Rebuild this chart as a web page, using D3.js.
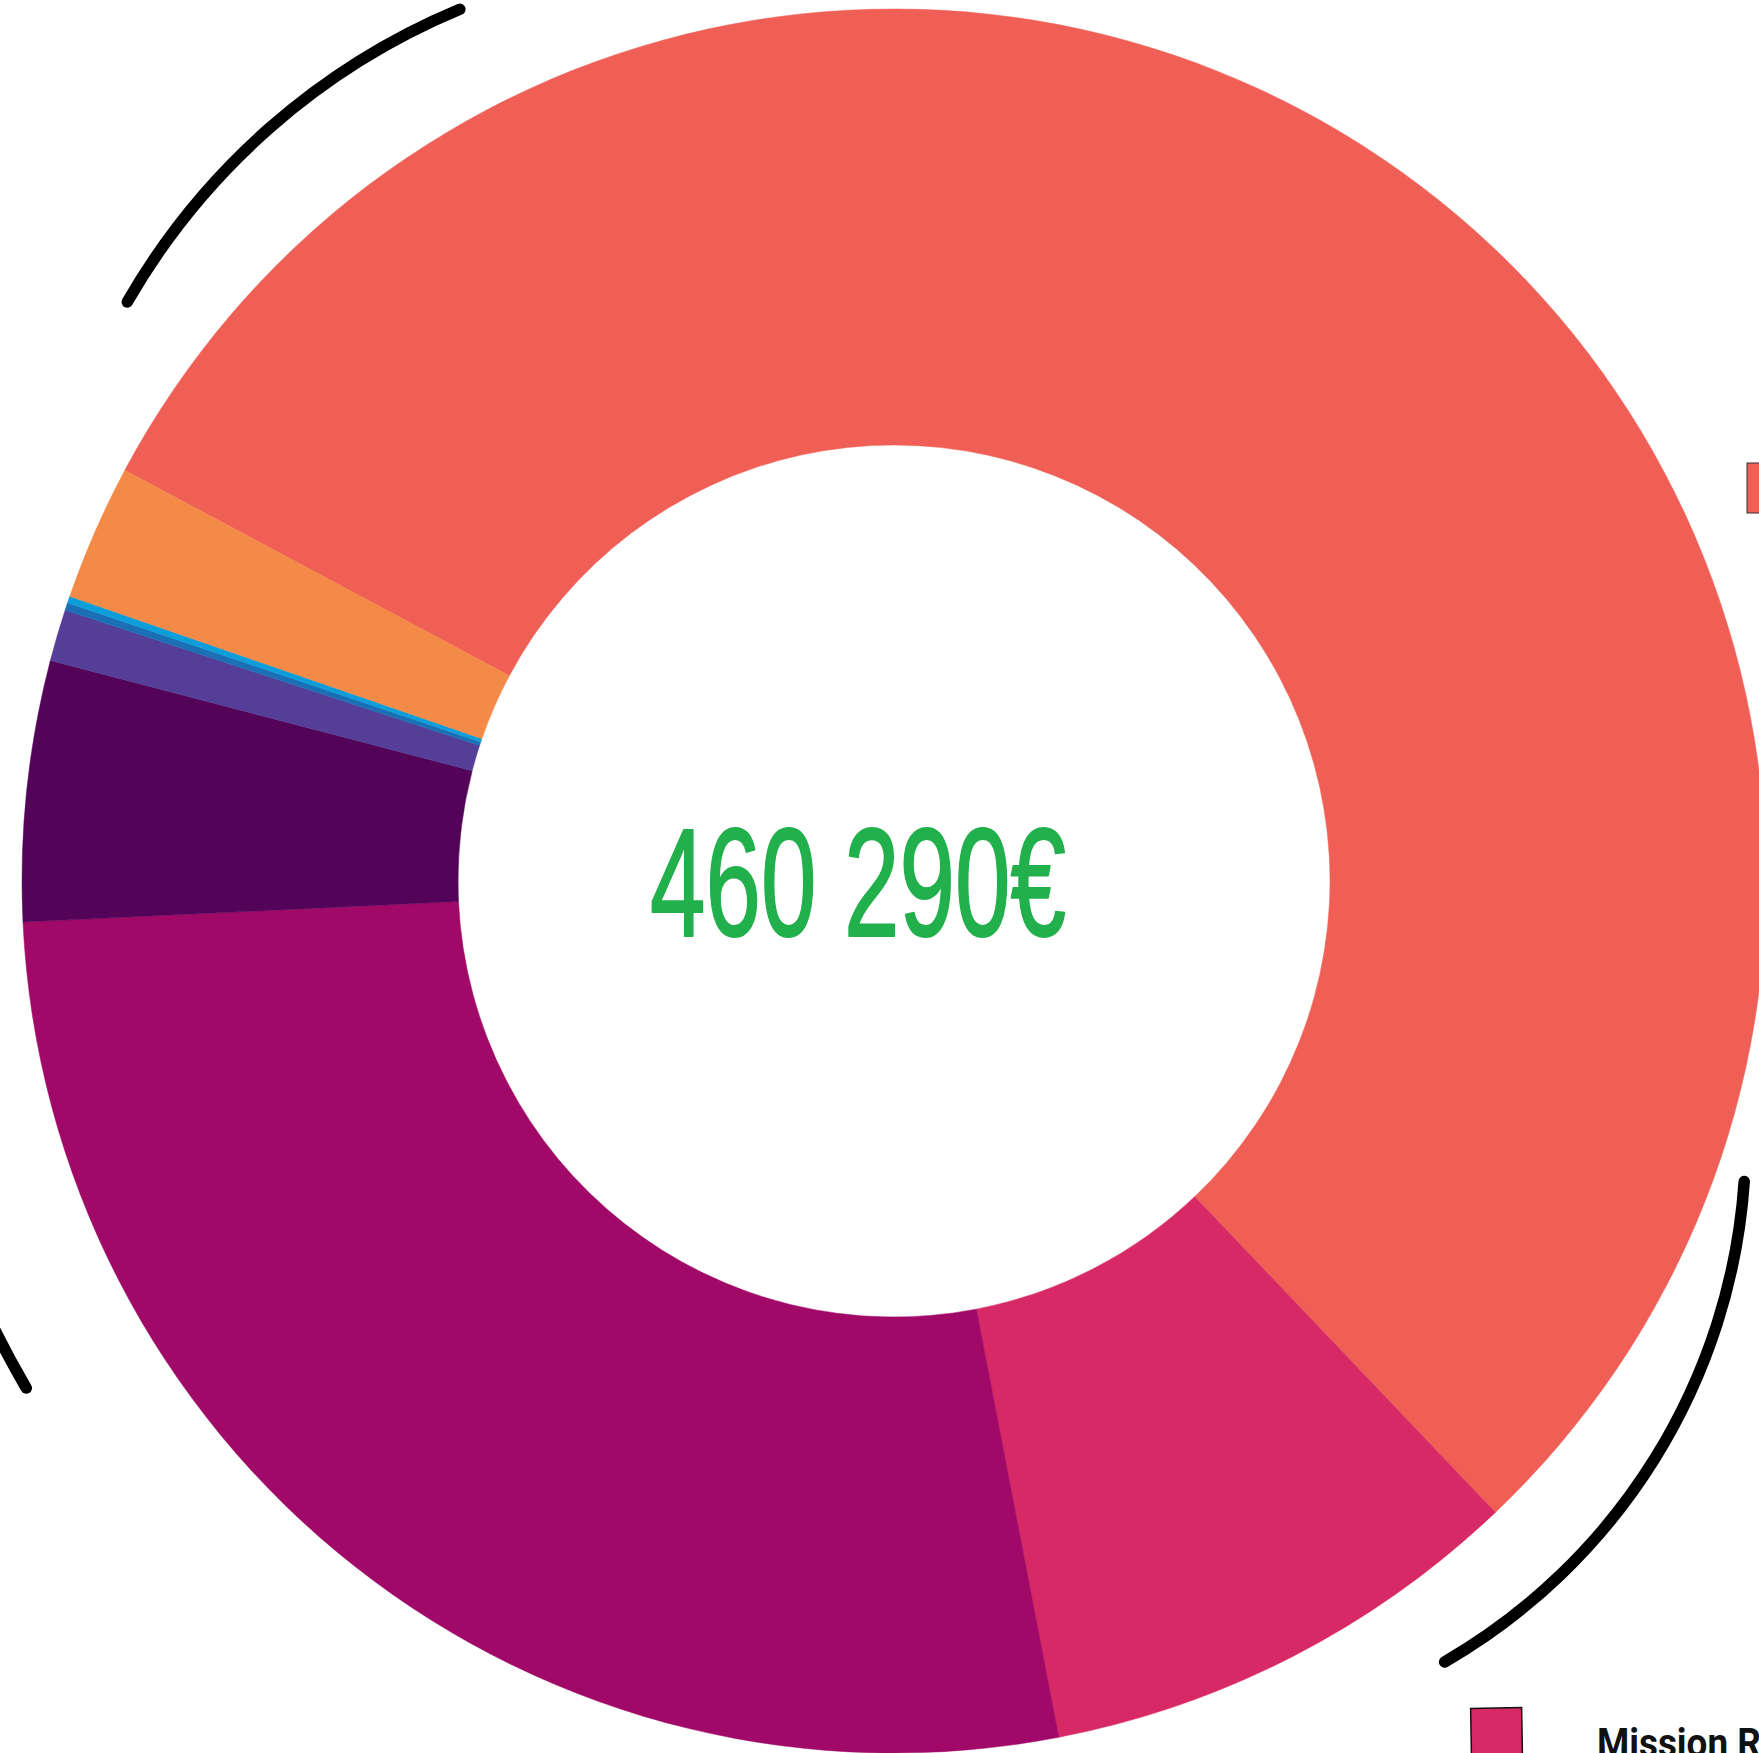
<!DOCTYPE html>
<html>
<head>
<meta charset="utf-8">
<script src="https://cdn.jsdelivr.net/npm/d3@7"></script>
<style>
  html, body { margin: 0; padding: 0; background: #fff; overflow: hidden; }
</style>
</head>
<body>
<svg id="chart" width="1759" height="1753"></svg>
<script>
// data (total 460 290 €)
var categories = ["Poste principal", "Mission RF", "Poste 3", "Poste 4", "Poste 5", "Poste 6", "Poste 7", "Poste 8"];
var values = [253545, 41810, 125560, 22180, 4410, 640, 575, 11570];
var colors = ["#EF5F56", "#D72966", "#A00967", "#530459", "#543E97", "#1B70B5", "#0B9EDB", "#F38A47"];
var totalLabel = "460 290€";

// hand drawn black strokes around the ring: circle centre, radius, start / end angle (deg, screen)
var strokes = [
    { x: 724.6, y: 645.4, r: 689, a0: 209.9, a1: 247.4 },
    { x: 1143.6, y: 1140.6, r: 602, a0: 3.9, a1: 60.0 },
    { x: 894, y: 881, r: 1005, a0: 149.7, a1: 175 }
];

var svg = d3.select("#chart");
var cx = 894, cy = 881;
var outerR = 872, innerR = 436;
var rad = Math.PI / 180;

var g = svg.append("g").attr("transform", "translate(" + cx + "," + cy + ")");

var data = categories.map(function (c, i) { return { name: c, value: values[i], color: colors[i] }; });

var pie = d3.pie()
    .sort(null)
    .value(function (d) { return d.value; })
    .startAngle(-61.9 * rad)
    .endAngle(-61.9 * rad + 2 * Math.PI);

var arc = d3.arc().innerRadius(innerR).outerRadius(outerR);

g.selectAll("path.slice")
    .data(pie(data))
    .enter().append("path")
    .attr("class", "slice")
    .attr("d", arc)
    .attr("fill", function (d) { return d.data.color; })
    .attr("stroke", function (d) { return d.data.color; })
    .attr("stroke-width", 0.5);

// the black strokes
svg.selectAll("path.stroke")
    .data(strokes)
    .enter().append("path")
    .attr("class", "stroke")
    .attr("d", function (s) {
        var p = d3.path();
        p.arc(s.x, s.y, s.r, s.a0 * rad, s.a1 * rad, false);
        return p.toString();
    })
    .attr("fill", "none")
    .attr("stroke", "#000")
    .attr("stroke-width", 11.5)
    .attr("stroke-linecap", "round");

// total in the middle
svg.append("text")
    .attr("x", 650)
    .attr("y", 936)
    .attr("textLength", 416)
    .attr("lengthAdjust", "spacingAndGlyphs")
    .style("font-family", "'Liberation Sans', 'DejaVu Sans', sans-serif")
    .style("font-size", "154px")
    .style("fill", "#21B04B")
    .style("stroke", "#21B04B")
    .style("stroke-width", 2)
    .style("stroke-linejoin", "round")
    .text(totalLabel);

// legend (mostly outside the frame)
svg.append("rect")
    .attr("x", 1747).attr("y", 463)
    .attr("width", 60).attr("height", 50)
    .attr("fill", colors[0])
    .attr("stroke", "#333").attr("stroke-width", 1);

svg.append("rect")
    .attr("x", 1471).attr("y", 1708)
    .attr("width", 51).attr("height", 60)
    .attr("fill", colors[1])
    .attr("stroke", "#111").attr("stroke-width", 1.5)
    .attr("transform", "rotate(-1 1496 1730)");

svg.append("text")
    .attr("x", 1597)
    .attr("y", 1757)
    .attr("textLength", 184)
    .attr("lengthAdjust", "spacingAndGlyphs")
    .style("font-family", "Roboto, 'Liberation Sans', sans-serif")
    .style("font-weight", "bold")
    .style("font-size", "41px")
    .style("fill", "#111")
    .text(categories[1]);
</script>
</body>
</html>
